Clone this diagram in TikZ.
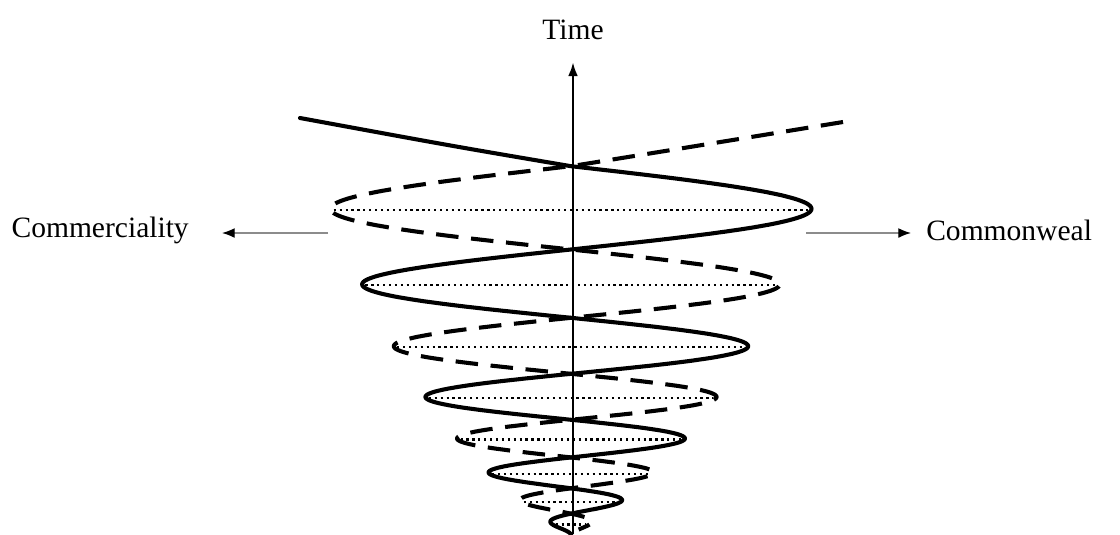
\documentclass[tikz,border=0pt]{standalone}
\usepackage{fontspec}
\setmainfont{Liberation Serif}
\usetikzlibrary{arrows.meta}

\begin{document}
\begin{tikzpicture}[x=0.025cm,y=-0.025cm,
    strand/.style={line width=2.9pt,line join=round,line cap=round},
    loose/.style={strand,line cap=butt,dash pattern=on 16pt off 9pt},
    ring/.style={line width=1.6pt,dash pattern=on 1.6pt off 2.6pt},
    pole/.style={line width=1.9pt,-{Latex[length=10pt,width=7pt]}},
    side/.style={line width=0.9pt,draw=black!45,-{Latex[color=black,length=9pt,width=7pt]}},
    label/.style={font=\fontsize{21}{25}\selectfont,inner sep=0pt}]
    \def\cx{571}
    \def\ytop{118}
    \def\yspan{511}
    \def\rtop{272}
    \def\rstep{31.7}
    \def\rate{0.19845}
    
    \useasboundingbox (0,0) rectangle (1120,534);
    
    % labels and axes
    \node[label] (time) at (573,30) {Time};
    \node[label,anchor=east] (comm) at (189,230) {Commerciality};
    \node[label,anchor=west] (weal) at (926,230) {Commonweal};
    
    \coordinate (base) at (573,534);
    \coordinate (top) at (573,62);
    \coordinate (L0) at (328,233);
    \coordinate (L1) at (222,233);
    \coordinate (R0) at (806,233);
    \coordinate (R1) at (911,233);
    \coordinate (S0) at (300,118);
    \coordinate (S2) at (452,146);
    \coordinate (D0) at (843,122);
    \coordinate (D2) at (690,147);
    \coordinate (X) at (\cx,166.2);
    
    \draw[side] (L0) -- (L1);
    \draw[side] (R0) -- (R1);
    
    % dotted diameters at each turn
    \foreach \k in {1,...,8}{
        \pgfmathsetmacro\rk{\rtop-\rstep*\k-3}
        \pgfmathsetmacro\yk{\ytop+\yspan*(1-exp(-\rate*\k))}
        \draw[ring] (\cx-\rk,\yk) -- (\cx+\rk,\yk);
    }
    
    \draw[pole] (base) -- (top);
    
    % the two spirals
    \draw[strand] (S0) .. controls (S2) .. (X) -- plot[domain=0.5:8.55,samples=640,variable=\t]
        ({\cx-(\rtop-\rstep*\t)*cos(180*\t)},{\ytop+\yspan*(1-exp(-\rate*\t))});
    \draw[loose] (D0) .. controls (D2) .. (X) -- plot[domain=0.5:8.25,samples=620,variable=\t]
        ({\cx+(\rtop-\rstep*\t)*cos(180*\t)},{\ytop+\yspan*(1-exp(-\rate*\t))});
\end{tikzpicture}
\end{document}
